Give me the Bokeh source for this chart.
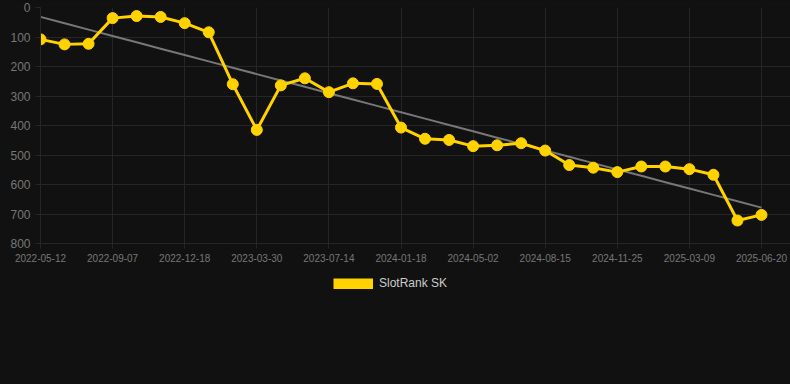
import numpy as np
from bokeh.plotting import figure
from bokeh.layouts import column
from bokeh.models import FixedTicker, Range1d, Legend, LegendItem
from bokeh.embed import file_html
from bokeh.resources import INLINE

ranks = [108, 125, 123, 36, 29, 32, 53, 84, 260, 415,
         264, 240, 287, 257, 259, 407, 445, 449, 470, 467,
         460, 485, 534, 543, 558, 539, 539, 548, 567, 722, 703]
tick_positions = [0, 3, 6, 9, 12, 15, 18, 21, 24, 27, 30]
tick_labels = ["2022-05-12", "2022-09-07", "2022-12-18", "2023-03-30", "2023-07-14",
               "2024-01-18", "2024-05-02", "2024-08-15", "2024-11-25", "2025-03-09",
               "2025-06-20"]
series_name = "SlotRank SK"
y_ticks = [0, 100, 200, 300, 400, 500, 600, 700, 800]

idx = np.arange(len(ranks))
coef = np.polyfit(idx, ranks, 1)
trend = np.polyval(coef, idx)

BG = "#111111"
GRID = "#262626"
YELLOW = "#FFD200"
TICK = "#777777"

p = figure(width=790, height=270, frame_width=750, frame_height=236,
           min_border_left=40, min_border_right=0, min_border_top=7, min_border_bottom=27,
           output_backend="svg", toolbar_location=None,
           x_range=Range1d(0, 30 + 29 / (721 / 30)), y_range=Range1d(800, 0))
p.background_fill_color = BG
p.border_fill_color = BG
p.outline_line_color = None

p.xaxis.ticker = FixedTicker(ticks=tick_positions)
p.xaxis.major_label_overrides = {t: l for t, l in zip(tick_positions, tick_labels)}
p.yaxis.ticker = FixedTicker(ticks=y_ticks)
for ax in (p.xaxis, p.yaxis):
    ax.axis_line_color = GRID
    ax.major_tick_line_color = GRID
    ax.major_tick_out = 5
    ax.major_tick_in = 0
    ax.minor_tick_line_color = None
    ax.major_label_text_color = TICK
    ax.major_label_text_font = "Liberation Sans"
    ax.major_label_standoff = 5
p.xaxis.major_label_text_font_size = "10px"
p.yaxis.major_label_text_font_size = "12px"
p.xgrid.grid_line_color = GRID
p.ygrid.grid_line_color = GRID
p.xgrid.ticker = FixedTicker(ticks=tick_positions)
p.ygrid.ticker = FixedTicker(ticks=y_ticks)

p.line(idx, trend, line_color="#777777", line_width=2)
p.line(idx, ranks, line_color=YELLOW, line_width=3)
p.scatter(idx, ranks, size=11, fill_color=YELLOW, line_color=YELLOW)

# Legend strip below the chart: the series is attached here only for its legend
# swatch; this strip's ranges keep the series itself out of view.
q = figure(width=790, height=114, min_border=0, output_backend="svg", toolbar_location=None,
           x_range=Range1d(0, 1), y_range=Range1d(-2, -1))
q.axis.visible = False
q.grid.visible = False
q.background_fill_color = BG
q.border_fill_color = BG
q.outline_line_color = None
swatch = q.line(idx, ranks, line_color=YELLOW, line_width=11, line_cap="butt")
legend = Legend(items=[LegendItem(label=series_name, renderers=[swatch])],
                location=(293, 114 - 20), padding=0, margin=0, spacing=0,
                glyph_width=40, glyph_height=11, label_height=11,
                label_standoff=6, label_text_font_size="12px",
                label_text_font="Liberation Sans", label_text_color="#cccccc",
                background_fill_alpha=0, border_line_alpha=0)
q.add_layout(legend, "center")

layout = column(p, q, spacing=0)
layout.styles = {"background-color": BG}
open("out.html", "w").write(file_html(layout, INLINE))
